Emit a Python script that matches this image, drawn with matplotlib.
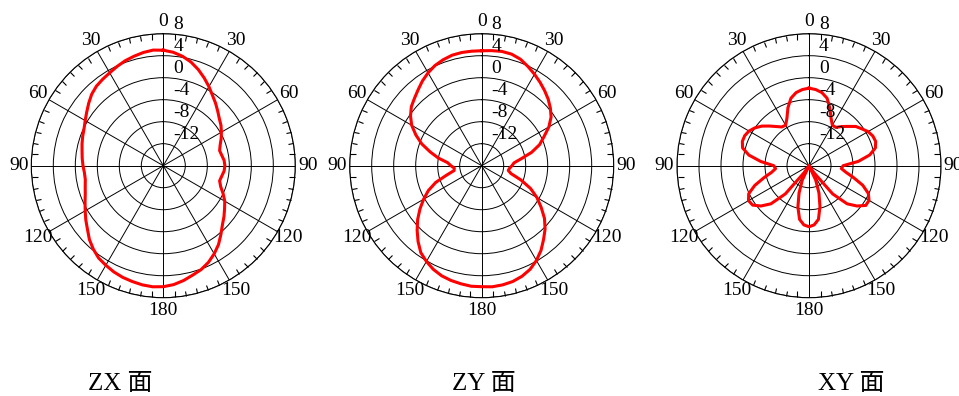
import numpy as np
import matplotlib.pyplot as plt

plt.rcParams['font.family'] = ['Liberation Serif', 'Noto Sans CJK SC']

# angle in degrees, clockwise from the top
angle_deg = list(range(0, 360, 5))

# gain in dB, every 5 degrees
zx_gain = [5.0, 4.7, 4.2, 3.5, 2.6, 1.6, 0.6, -0.4, -1.2, -2.0, -2.7, -3.2,
           -3.8, -4.4, -5.0, -5.4, -5.2, -4.9, -4.8, -4.9, -5.2, -5.4, -4.9, -4.0,
           -3.1, -2.4, -1.6, -0.8, 0.3, 1.5, 2.5, 3.4, 4.1, 4.6, 5.2, 5.7,
           6.0, 6.1, 6.0, 5.8, 5.6, 5.3, 4.9, 4.5, 3.8, 3.0, 2.0, 1.2,
           0.4, -0.3, -0.9, -1.3, -1.6, -1.6, -1.4, -1.2, -1.0, -0.7, -0.4, -0.1,
           0.4, 1.0, 1.7, 2.4, 2.9, 3.2, 3.5, 3.9, 4.3, 4.6, 4.9, 5.1]

zy_gain = [4.9, 5.0, 5.1, 5.0, 4.6, 3.9, 3.2, 2.5, 1.8, 1.1, 0.3, -0.6,
           -1.9, -3.5, -4.8, -6.6, -8.7, -10.1, -10.5, -10.9, -11.1, -10.5, -8.4, -6.2,
           -4.4, -2.8, -1.1, 0.3, 1.5, 2.8, 3.9, 4.8, 5.4, 5.8, 6.0, 6.1,
           6.0, 6.0, 5.8, 5.6, 5.3, 4.8, 4.1, 3.3, 2.0, 0.6, -0.8, -2.3,
           -3.8, -5.3, -7.1, -9.4, -10.9, -11.0, -10.4, -9.8, -8.0, -6.3, -4.4, -2.8,
           -1.3, -0.2, 0.7, 1.3, 2.0, 2.8, 3.5, 4.1, 4.5, 4.8, 4.9, 4.9]

xy_gain = [-1.9, -2.1, -2.5, -3.3, -4.9, -6.5, -7.5, -7.5, -6.7, -5.9, -4.9, -4.3,
           -3.6, -3.2, -3.1, -3.5, -4.8, -7.0, -9.8, -10.1, -9.2, -7.6, -5.6, -4.1,
           -3.4, -3.4, -4.6, -6.2, -9.3, -14.5, -16.0, -13.1, -10.7, -8.3, -6.1, -5.2,
           -4.9, -5.2, -6.1, -8.2, -10.7, -13.1, -16.0, -14.5, -9.3, -6.2, -4.6, -3.5,
           -3.3, -3.9, -5.5, -7.5, -9.1, -9.9, -9.6, -7.2, -4.9, -3.5, -3.1, -3.1,
           -3.4, -4.0, -4.8, -5.8, -6.7, -7.4, -7.5, -6.5, -4.8, -3.3, -2.5, -2.1]

titles = ['ZX 面', 'ZY 面', 'XY 面']
theta_labels = ['0', '30', '60', '90', '120', '150', '180', '150', '120', '90', '60', '30']
r_ticks = [-12, -8, -4, 0, 4, 8]
r_min, r_max = -16, 8

W, H = 959, 396
fig = plt.figure(figsize=(W / 100, H / 100), dpi=100)

centers_x = [163.3, 481.7, 809.0]
cy = 165.7
R = 132
title_x = [120, 484, 851]

theta = np.deg2rad(angle_deg + [angle_deg[0]])

for i, gain in enumerate([zx_gain, zy_gain, xy_gain]):
    cx = centers_x[i]
    ax = fig.add_axes([(cx - R) / W, (H - cy - R) / H, 2 * R / W, 2 * R / H],
                      projection='polar')
    ax.set_theta_zero_location('N')
    ax.set_theta_direction(-1)
    ax.set_ylim(r_min, r_max)
    ax.set_yticks(r_ticks)
    ax.set_yticklabels([])
    ax.set_xticks(np.deg2rad(range(0, 360, 30)))
    ax.set_xticklabels(theta_labels, fontsize=14)
    ax.set_xticks(np.deg2rad(range(0, 360, 5)), minor=True)
    ax.tick_params(axis='x', which='major', length=0, pad=2)
    ax.tick_params(axis='x', which='minor', length=4, width=0.8,
                   direction='in', color='black', bottom=False, top=True)
    ax.grid(True, color='black', linewidth=0.7)
    ax.spines['polar'].set_linewidth(0.8)
    ax.spines['polar'].set_color('black')

    ax.plot(theta, gain + [gain[0]], color='red', linewidth=2.2)

    for v in r_ticks:
        ax.annotate(str(v), xy=(0, v), xytext=(10, 1), textcoords='offset pixels',
                    ha='left', va='bottom', fontsize=14, annotation_clip=False)

    fig.text(title_x[i] / W, (H - 384) / H, titles[i], ha='center', va='center',
             fontsize=18)

fig.savefig('out.png', dpi=100)
